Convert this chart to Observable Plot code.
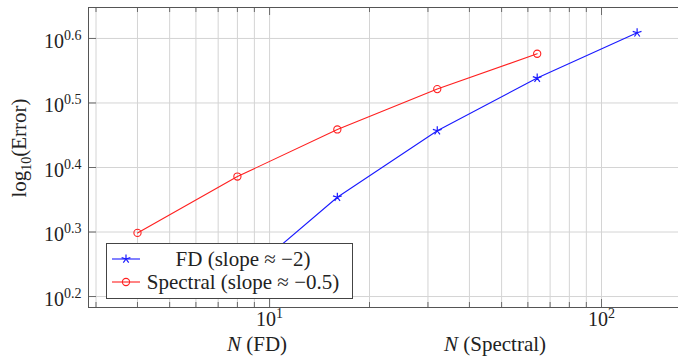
<!DOCTYPE html>
<html>
<head>
<meta charset="utf-8">
<script src="https://cdn.jsdelivr.net/npm/d3@7"></script>
<script src="https://cdn.jsdelivr.net/npm/@observablehq/plot@0.6"></script>
<style>
  html, body { margin: 0; padding: 0; background: white; overflow: hidden; }
  #chart { width: 678px; height: 363px; overflow: hidden; }
</style>
</head>
<body>
<div id="chart"></div>
<script>
// ---- data ----
const nFD = [8, 16, 32, 64, 128];
const errFD = [1.667, 2.259, 2.864, 3.456, 4.063];
const nSpectral = [4, 8, 16, 32, 64];
const errSpectral = [1.989, 2.432, 2.877, 3.323, 3.770];
const seriesNames = ["FD (slope ≈ −2)", "Spectral (slope ≈ −0.5)"];
const seriesColors = ["#1a1aff", "#ff2020"];
const xMajorTicks = [10, 100];
const xMajorLabels = ["10^1", "10^2"];
const xMinorTicks = [3, 4, 5, 6, 7, 8, 9, 20, 30, 40, 50, 60, 70, 80, 90];
const yTickExponents = [0.2, 0.3, 0.4, 0.5, 0.6];
const yTickLabels = ["10^0.2", "10^0.3", "10^0.4", "10^0.5", "10^0.6"];
const xLabels = ["N (FD)", "N (Spectral)"];
const yLabel = ["log", "10", "(Error)"];

const yTicks = yTickExponents.map(e => Math.pow(10, e));
const fdData = nFD.map((n, i) => ({n, err: errFD[i]}));
const spData = nSpectral.map((n, i) => ({n, err: errSpectral[i]}));

// 5-ray star like pgfplots "star"
const star5 = {
  draw(ctx, size) {
    const r = Math.sqrt(size / Math.PI) * 1.15;
    for (let i = 0; i < 5; i++) {
      const a = -Math.PI / 2 + i * 2 * Math.PI / 5;
      ctx.moveTo(0, 0);
      ctx.lineTo(r * Math.cos(a), r * Math.sin(a));
    }
  }
};

const FONT = "'Liberation Serif', 'DejaVu Serif', serif";
const gridColor = "#d4d4d4";
const tickColor = "#6a6a6a";

const plot = Plot.plot({
  width: 678,
  height: 363,
  marginLeft: 88,
  marginRight: -10,
  marginTop: 7,
  marginBottom: 56,
  style: {fontFamily: FONT, fontSize: "20px", background: "white", color: "#222"},
  x: {type: "log", domain: [Math.pow(10, 0.4545), Math.pow(10, 2.262)], axis: null},
  y: {type: "log", domain: [Math.pow(10, 0.183), Math.pow(10, 0.648)], axis: null},
  marks: [
    Plot.ruleX(xMinorTicks.concat(xMajorTicks), {x: d => d, stroke: gridColor, strokeWidth: 1}),
    Plot.ruleY(yTicks, {y: d => d, stroke: gridColor, strokeWidth: 1}),
    // inward tick marks
    Plot.ruleX(xMajorTicks, {x: d => d, insetTop: 292, stroke: tickColor}),
    Plot.ruleX(xMajorTicks, {x: d => d, insetBottom: 292, stroke: tickColor}),
    Plot.ruleX(xMinorTicks, {x: d => d, insetTop: 295, stroke: tickColor}),
    Plot.ruleX(xMinorTicks, {x: d => d, insetBottom: 295, stroke: tickColor}),
    Plot.ruleY(yTicks, {y: d => d, insetRight: 592, stroke: tickColor}),
    Plot.frame({stroke: "#555", strokeWidth: 1}),
    // series
    Plot.line(fdData, {x: "n", y: "err", stroke: seriesColors[0], strokeWidth: 1.1}),
    Plot.dot(fdData, {x: "n", y: "err", symbol: star5, r: 4, stroke: seriesColors[0], strokeWidth: 1.2, fill: "none"}),
    Plot.line(spData, {x: "n", y: "err", stroke: seriesColors[1], strokeWidth: 1.1}),
    Plot.dot(spData, {x: "n", y: "err", symbol: "circle", r: 3.6, stroke: seriesColors[1], strokeWidth: 1.1, fill: "none"}),
    // tick labels
    Plot.text(xMajorTicks, {x: d => d, text: (d, i) => xMajorLabels[i], frameAnchor: "bottom", dy: 18, fontSize: 20, fill: "#222"}),
    Plot.text(yTicks, {y: d => d, text: (d, i) => yTickLabels[i], frameAnchor: "left", textAnchor: "end", dx: -7, dy: 3, fontSize: 20, fill: "#222"})
  ]
});

document.getElementById("chart").appendChild(plot);

const svg = d3.select(plot);
const ns = "http://www.w3.org/2000/svg";

// superscripts in tick labels
plot.querySelectorAll("text").forEach(t => {
  const s = t.textContent;
  if (!s.includes("^")) return;
  const [b, e] = s.split("^");
  while (t.firstChild) t.removeChild(t.firstChild);
  const t1 = document.createElementNS(ns, "tspan");
  t1.textContent = b;
  const t2 = document.createElementNS(ns, "tspan");
  t2.setAttribute("dy", "-8");
  t2.setAttribute("font-size", "14");
  t2.textContent = e;
  t.appendChild(t1);
  t.appendChild(t2);
});

// axis labels
function addNLabel(x, y, rest) {
  const t = svg.append("text")
    .attr("x", x).attr("y", y)
    .attr("text-anchor", "middle")
    .attr("font-family", FONT).attr("font-size", 21).attr("fill", "#222");
  t.append("tspan").attr("font-style", "italic").text("N");
  t.append("tspan").text(rest);
}
addNLabel(257, 351, xLabels[0].slice(1));
addNLabel(495, 351, xLabels[1].slice(1));

const yl = svg.append("text")
  .attr("transform", "translate(26,148) rotate(-90)")
  .attr("text-anchor", "middle")
  .attr("font-family", FONT).attr("font-size", 21).attr("fill", "#222");
yl.append("tspan").text(yLabel[0]);
yl.append("tspan").attr("font-size", 14).attr("dy", 5).text(yLabel[1]);
yl.append("tspan").attr("dy", -5).text(yLabel[2]);

// legend
const lg = svg.append("g");
lg.append("rect").attr("x", 106.5).attr("y", 243.5).attr("width", 246).attr("height", 55)
  .attr("fill", "white").attr("stroke", "#444").attr("stroke-width", 1);
const rowsY = [259, 282];
seriesNames.forEach((name, i) => {
  const y = rowsY[i];
  lg.append("line").attr("x1", 112).attr("x2", 140).attr("y1", y).attr("y2", y)
    .attr("stroke", seriesColors[i]).attr("stroke-width", 1.1);
  if (i === 0) {
    const p = d3.path();
    star5.draw(p, 16 * Math.PI);
    lg.append("path").attr("d", p.toString()).attr("transform", `translate(126,${y})`)
      .attr("stroke", seriesColors[i]).attr("stroke-width", 1.2).attr("fill", "none");
  } else {
    lg.append("circle").attr("cx", 126).attr("cy", y).attr("r", 3.6)
      .attr("stroke", seriesColors[i]).attr("stroke-width", 1.1).attr("fill", "none");
  }
  lg.append("text").attr("x", 243).attr("y", y + 7).attr("text-anchor", "middle")
    .attr("font-family", FONT).attr("font-size", 21).attr("fill", "#222").text(name);
});
</script>
</body>
</html>
